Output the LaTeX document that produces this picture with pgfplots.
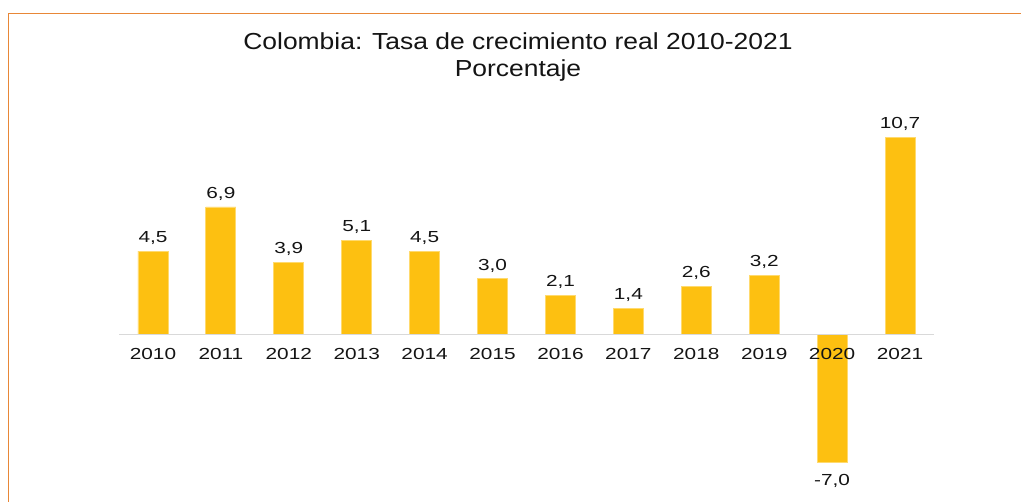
\documentclass[border=0pt]{standalone}
\usepackage{fontspec}
\setmainfont{Liberation Sans}
\newfontfamily\titlefont[FakeStretch=1.14]{Liberation Sans}
\newfontfamily\labelfont[FakeStretch=1.3]{Liberation Sans}
\usepackage{pgfplots}
\pgfplotsset{compat=1.18}
\definecolor{barfill}{RGB}{253,192,17}
\definecolor{baredge}{RGB}{255,218,110}
\definecolor{framecol}{RGB}{232,135,55}
\definecolor{txt}{RGB}{20,20,20}
\definecolor{zeroline}{RGB}{217,217,217}
\begin{document}
\begin{tikzpicture}
\useasboundingbox (0pt,0pt) rectangle (1021pt,502pt);
\draw[framecol, line width=1.8pt] (8.5pt,0pt) -- (8.5pt,488.5pt) -- (1021pt,488.5pt);
\node[txt, anchor=base, inner sep=0pt, font=\titlefont\fontsize{23.2}{28}\selectfont] at (518pt,452.7pt) {Colombia: Tasa de crecimiento real 2010-2021};
\node[txt, anchor=base, inner sep=0pt, font=\titlefont\fontsize{23.2}{28}\selectfont] at (518pt,425.3pt) {Porcentaje};
\begin{axis}[
  at={(119pt,20.7pt)}, anchor=south west,
  scale only axis, width=815pt, height=368.2pt,
  xmin=-0.5, xmax=11.5, ymin=-8, ymax=12,
  axis x line=middle, axis y line=none,
  axis line style={draw=zeroline, line width=1pt, -},
  axis on top,
  clip=false,
  xtick={0,...,11},
  xticklabels={2010,2011,2012,2013,2014,2015,2016,2017,2018,2019,2020,2021},
  major tick length=0pt,
  ytick=\empty,
  x tick label style={anchor=base, yshift=-25pt, inner sep=0pt, text=txt, font=\labelfont\fontsize{16}{19}\selectfont},
  every node near coord/.append style={text=txt, inner sep=0pt, font=\labelfont\fontsize{16}{19}\selectfont},
  nodes near coords,
  /pgf/number format/.cd, fixed, fixed zerofill, precision=1, use comma, assume math mode=true,
]
\addplot[ybar, bar width=30pt, bar shift=0pt, fill=barfill, draw=baredge, line width=0.8pt,
  nodes near coords style={anchor=base, yshift=8.5pt}]
  coordinates {(0,4.5) (1,6.9) (2,3.9) (3,5.1) (4,4.5) (5,3.0) (6,2.1) (7,1.4) (8,2.6) (9,3.2) (11,10.7)};
\addplot[ybar, bar width=30pt, bar shift=0pt, fill=barfill, draw=baredge, line width=0.8pt,
  nodes near coords style={anchor=north, yshift=-11pt}]
  coordinates {(10,-7.0)};
\end{axis}
\end{tikzpicture}
\end{document}
